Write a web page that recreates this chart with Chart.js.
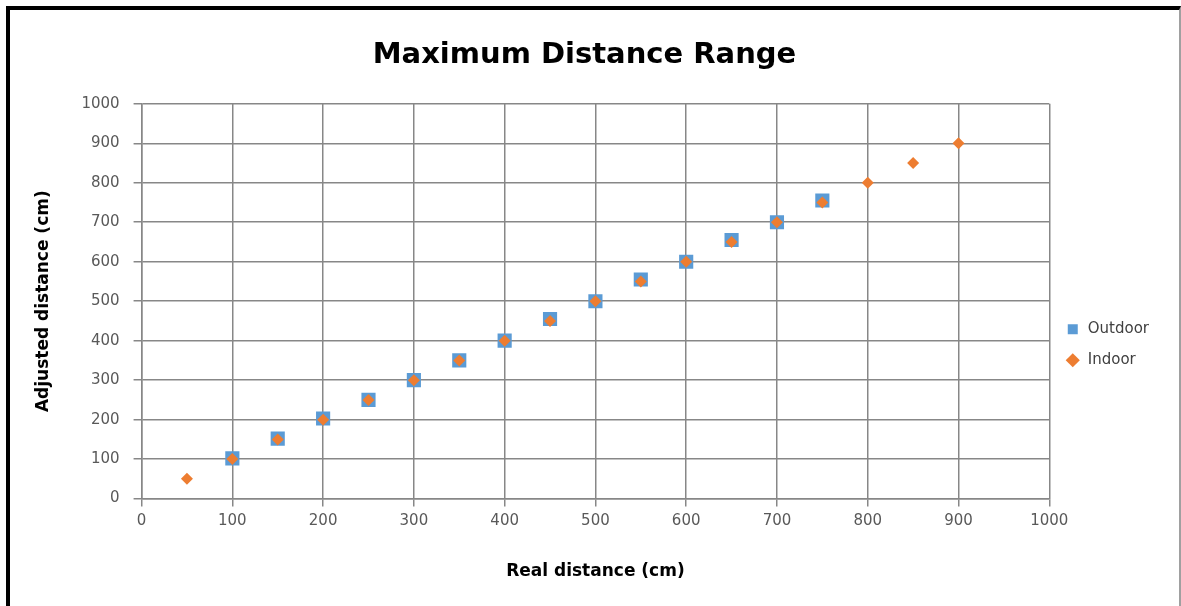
<!DOCTYPE html>
<html>
<head>
<meta charset="utf-8">
<script src="https://cdn.jsdelivr.net/npm/chart.js@4/dist/chart.umd.min.js"></script>
<style>
  html, body { margin: 0; padding: 0; background: #fff; }
  #wrap { position: relative; width: 1181px; height: 606px; overflow: hidden; }
  #myChart { position: absolute; left: 0; top: 0; }
  #frame {
    position: absolute; left: 6px; top: 6px; width: 1169px; height: 640px;
    border-top: 4px solid #000; border-left: 4px solid #000; border-right: 2px solid #a0a0a0;
    pointer-events: none;
  }
</style>
</head>
<body>
<div id="wrap">
  <canvas id="myChart" width="1181" height="606"></canvas>
  <div id="frame"></div>
</div>
<script>
'use strict';

// data
const outdoorX = [100, 150, 200, 250, 300, 350, 400, 450, 500, 550, 600, 650, 700, 750];
const outdoorY = [102, 152, 203, 250, 300, 350, 400, 455, 500, 555, 600, 655, 700, 755];
const indoorX = [50, 100, 150, 200, 250, 300, 350, 400, 450, 500, 550, 600, 650, 700, 750, 800, 850, 900];
const indoorY = [50, 100, 150, 200, 250, 300, 350, 400, 450, 500, 550, 600, 650, 700, 750, 800, 850, 900];
const xTicks = [0, 100, 200, 300, 400, 500, 600, 700, 800, 900, 1000];
const yTicks = [0, 100, 200, 300, 400, 500, 600, 700, 800, 900, 1000];

const FONT = 'DejaVu Sans';
const gridColor = '#878787';
const tickColor = '#595959';

const toPoints = (xs, ys) => xs.map((x, i) => ({ x: x, y: ys[i] }));

const ctx = document.getElementById('myChart').getContext('2d');

const data = {
  datasets: [
    {
      label: 'Outdoor',
      data: toPoints(outdoorX, outdoorY),
      pointStyle: 'rect',
      pointRadius: 10,
      backgroundColor: '#5b9bd5',
      borderColor: '#5b9bd5',
      borderWidth: 0,
      order: 1
    },
    {
      label: 'Indoor',
      data: toPoints(indoorX, indoorY),
      pointStyle: 'rectRot',
      pointRadius: 6,
      backgroundColor: '#ed7d31',
      borderColor: '#ed7d31',
      borderWidth: 0,
      order: 0
    }
  ]
};

const options = {
  responsive: false,
  animation: false,
  layout: {
    padding: { left: 10, right: 22, top: 10, bottom: 10 }
  },
  plugins: {
    title: {
      display: true,
      text: 'Maximum Distance Range',
      color: '#000',
      font: { family: FONT, size: 29, weight: 'bold' },
      padding: { top: 28, bottom: 31 }
    },
    legend: {
      position: 'right',
      title: {
        display: true,
        text: '',
        font: { size: 12 },
        padding: { top: 69, bottom: 0 }
      },
      labels: {
        usePointStyle: true,
        boxHeight: 10,
        padding: 16,
        color: '#404040',
        font: { family: FONT, size: 15 },
        sort: (a, b) => a.datasetIndex - b.datasetIndex
      }
    },
    tooltip: {
      enabled: false
    }
  },
  scales: {
    x: {
      type: 'linear',
      min: 0,
      max: 1000,
      afterBuildTicks: (axis) => { axis.ticks = xTicks.map(v => ({ value: v })); },
      ticks: {
        color: tickColor,
        padding: 6,
        font: { family: FONT, size: 15 },
        callback: (value) => String(value)
      },
      grid: {
        color: gridColor,
        lineWidth: 1.5,
        tickLength: 8
      },
      border: {
        color: gridColor,
        width: 1.5
      },
      title: {
        display: true,
        text: 'Real distance (cm)',
        color: '#000',
        font: { family: FONT, size: 17, weight: 'bold' },
        padding: { top: 25, bottom: 14 }
      }
    },
    y: {
      type: 'linear',
      min: 0,
      max: 1000,
      afterBuildTicks: (axis) => { axis.ticks = yTicks.map(v => ({ value: v })); },
      ticks: {
        color: tickColor,
        padding: 14,
        font: { family: FONT, size: 15 },
        callback: (value) => String(value)
      },
      grid: {
        color: gridColor,
        lineWidth: 1.5,
        tickLength: 8
      },
      border: {
        color: gridColor,
        width: 1.5
      },
      title: {
        display: true,
        text: 'Adjusted distance (cm)',
        color: '#000',
        font: { family: FONT, size: 17, weight: 'bold' },
        padding: { top: 23, bottom: 14 }
      }
    }
  }
};

new Chart(ctx, {
  type: 'scatter',
  data: data,
  options: options
});
</script>
</body>
</html>
